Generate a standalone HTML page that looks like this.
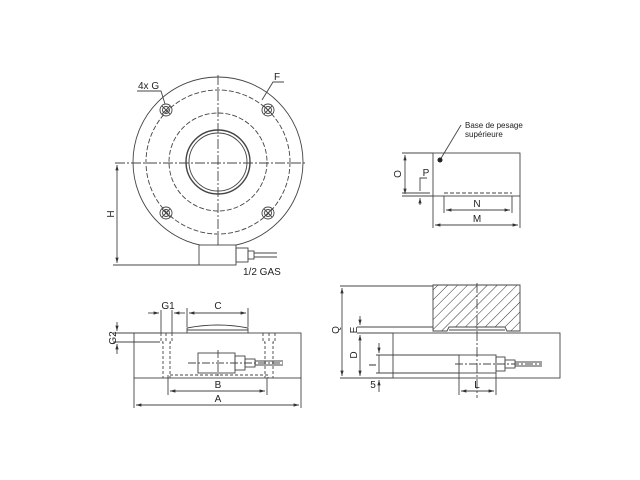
<!DOCTYPE html>
<html><head><meta charset="utf-8"><style>
html,body{margin:0;padding:0;background:#fff;width:640px;height:480px;overflow:hidden}
svg{display:block}
text{font-family:"Liberation Sans",sans-serif;font-size:10px;fill:#222}
</style></head><body>
<svg width="640" height="480" viewBox="0 0 640 480" xmlns="http://www.w3.org/2000/svg">
<defs>
<marker id="a" viewBox="0 0 10 10" refX="10" refY="5" markerWidth="6" markerHeight="6" orient="auto-start-reverse"><path d="M0,2 L10,5 L0,8 z" fill="#333"/></marker>
<pattern id="h" width="7" height="7" patternUnits="userSpaceOnUse" patternTransform="rotate(45)"><line x1="0" y1="0" x2="0" y2="7" stroke="#333" stroke-width="1"/></pattern>
<g id="b" stroke="#444" stroke-width="0.9" fill="none"><circle r="6"/><circle r="3.5"/><line x1="-4" y1="-4" x2="4" y2="4"/><line x1="-4" y1="4" x2="4" y2="-4"/></g>
</defs>
<g stroke="#444" stroke-width="0.9" fill="none">
<!-- top view -->
<circle cx="218" cy="162" r="85"/>
<circle cx="218" cy="162" r="72" stroke-dasharray="5,2"/>
<circle cx="218" cy="162" r="49" stroke-dasharray="5,2"/>
<circle cx="218" cy="162" r="32" stroke-width="1.4"/>
<circle cx="218" cy="162" r="29"/>
<line x1="115" y1="163" x2="305" y2="163" stroke-dasharray="10,2,2,2"/>
<line x1="218" y1="75" x2="218" y2="250" stroke-dasharray="10,2,2,2"/>
<use href="#b" x="166" y="110"/><use href="#b" x="268" y="110"/><use href="#b" x="166" y="213"/><use href="#b" x="268" y="213"/>
<rect x="199" y="245" width="37" height="20" fill="#fff"/>
<rect x="236" y="248" width="12" height="14"/>
<rect x="248" y="251" width="6" height="8"/>
<line x1="254" y1="253" x2="277" y2="253"/><line x1="254" y1="257" x2="277" y2="257"/>
<line x1="117" y1="165" x2="117" y2="263" marker-start="url(#a)" marker-end="url(#a)"/>
<line x1="113" y1="265" x2="199" y2="265"/>
<polyline points="137,91 161,91 165,104"/>
<polyline points="284,82 273,82 262,100"/>
<!-- side view left -->
<rect x="134" y="333" width="167" height="45"/>
<path d="M187,333 L187,328 Q218,322 248,328 L248,333"/>
<line x1="187" y1="330" x2="248" y2="330"/>
<g stroke-dasharray="3,2">
<polyline points="161,333 161,342 163,342 163,378"/><polyline points="172,333 172,342 170,342 170,378"/>
<line x1="166" y1="333" x2="166" y2="342"/>
<polyline points="263,333 263,342 265,342 265,378"/><polyline points="275,333 275,342 273,342 273,378"/>
<line x1="269" y1="333" x2="269" y2="342"/>
<polyline points="168,378 168,375 268,375 268,378"/>
</g>
<rect x="198" y="353" width="37" height="20"/>
<rect x="235" y="356" width="10" height="14"/><rect x="245" y="359" width="10" height="8"/>
<line x1="255" y1="361" x2="283" y2="361"/><line x1="255" y1="365" x2="283" y2="365"/>
<line x1="188" y1="363" x2="283" y2="363" stroke-dasharray="8,2,2,2"/>
<line x1="218" y1="350" x2="218" y2="376" stroke-dasharray="8,2,2,2"/>
<line x1="161" y1="310" x2="161" y2="333"/><line x1="172" y1="310" x2="172" y2="333"/>
<line x1="148" y1="313" x2="159" y2="313" marker-end="url(#a)"/><line x1="185" y1="313" x2="174" y2="313" marker-end="url(#a)"/>
<line x1="187" y1="308" x2="187" y2="327"/><line x1="248" y1="308" x2="248" y2="327"/>
<line x1="189" y1="313" x2="246" y2="313" marker-start="url(#a)" marker-end="url(#a)"/>
<line x1="113" y1="333" x2="160" y2="333"/><line x1="113" y1="342" x2="160" y2="342"/>
<line x1="117" y1="322" x2="117" y2="331" marker-end="url(#a)"/><line x1="117" y1="354" x2="117" y2="344" marker-end="url(#a)"/>
<line x1="168" y1="378" x2="168" y2="395"/><line x1="267" y1="378" x2="267" y2="395"/>
<line x1="170" y1="391" x2="265" y2="391" marker-start="url(#a)" marker-end="url(#a)"/>
<line x1="134" y1="378" x2="134" y2="408"/><line x1="301" y1="378" x2="301" y2="408"/>
<line x1="136" y1="405" x2="299" y2="405" marker-start="url(#a)" marker-end="url(#a)"/>
<!-- top right -->
<rect x="433" y="153" width="87" height="43"/>
<line x1="444" y1="193" x2="512" y2="193" stroke-dasharray="4,2"/>
<line x1="440" y1="160" x2="461" y2="125"/>
<line x1="402" y1="153" x2="433" y2="153"/><line x1="402" y1="196" x2="433" y2="196"/>
<line x1="405" y1="155" x2="405" y2="194" marker-start="url(#a)" marker-end="url(#a)"/>
<line x1="402" y1="193" x2="430" y2="193"/>
<polyline points="427,178 420,178 420,191"/>
<line x1="420" y1="205" x2="420" y2="198" marker-end="url(#a)"/>
<line x1="444" y1="196" x2="444" y2="213"/><line x1="512" y1="196" x2="512" y2="213"/>
<line x1="446" y1="210" x2="510" y2="210" marker-start="url(#a)" marker-end="url(#a)"/>
<line x1="433" y1="196" x2="433" y2="228"/><line x1="520" y1="196" x2="520" y2="228"/>
<line x1="435" y1="225" x2="518" y2="225" marker-start="url(#a)" marker-end="url(#a)"/>
<!-- bottom right -->
<path d="M433,285 L520,285 L520,331 L507,331 L505,327 L449,327 L447,331 L433,331 Z" fill="url(#h)"/>
<line x1="449" y1="330" x2="505" y2="330"/>
<rect x="393" y="333" width="167" height="45"/>
<rect x="459" y="355" width="37" height="18"/>
<rect x="496" y="357" width="9" height="14"/><rect x="505" y="360" width="10" height="8"/>
<line x1="515" y1="362" x2="542" y2="362"/><line x1="515" y1="366" x2="542" y2="366"/>
<line x1="455" y1="364" x2="542" y2="364" stroke-dasharray="8,2,2,2"/>
<line x1="477" y1="283" x2="477" y2="398" stroke-dasharray="10,2,2,2"/>
<line x1="340" y1="286" x2="433" y2="286"/><line x1="340" y1="378" x2="393" y2="378"/>
<line x1="342" y1="288" x2="342" y2="376" marker-start="url(#a)" marker-end="url(#a)"/>
<line x1="357" y1="327" x2="433" y2="327"/><line x1="357" y1="333" x2="393" y2="333"/>
<line x1="360" y1="316" x2="360" y2="325" marker-end="url(#a)"/>
<line x1="360" y1="335" x2="360" y2="376" marker-start="url(#a)" marker-end="url(#a)"/>
<line x1="376" y1="355" x2="459" y2="355"/><line x1="376" y1="373" x2="459" y2="373"/>
<line x1="379" y1="343" x2="379" y2="353" marker-end="url(#a)"/>
<line x1="379" y1="355" x2="379" y2="373"/>
<line x1="379" y1="392" x2="379" y2="380" marker-end="url(#a)"/>
<line x1="459" y1="373" x2="459" y2="395"/><line x1="496" y1="373" x2="496" y2="395"/>
<line x1="461" y1="391" x2="494" y2="391" marker-start="url(#a)" marker-end="url(#a)"/>
</g>
<circle cx="440" cy="160" r="2.5" fill="#222"/>
<text x="138" y="89">4x G</text>
<text x="274" y="80">F</text>
<text x="243" y="275">1/2 GAS</text>
<text transform="translate(114,214) rotate(-90)" text-anchor="middle">H</text>
<text x="168" y="309" text-anchor="middle">G1</text>
<text x="218" y="309" text-anchor="middle">C</text>
<text transform="translate(116,338) rotate(-90)" text-anchor="middle">G2</text>
<text x="218" y="388" text-anchor="middle">B</text>
<text x="218" y="402" text-anchor="middle">A</text>
<text x="465" y="128" style="font-size:8px">Base de pesage</text>
<text x="465" y="137" style="font-size:8px">supérieure</text>
<text transform="translate(401,174) rotate(-90)" text-anchor="middle">O</text>
<text x="426" y="176" text-anchor="middle">P</text>
<text x="477" y="207" text-anchor="middle">N</text>
<text x="477" y="222" text-anchor="middle">M</text>
<text transform="translate(339,330) rotate(-90)" text-anchor="middle">Q</text>
<text transform="translate(357,330) rotate(-90)" text-anchor="middle">E</text>
<text transform="translate(357,355) rotate(-90)" text-anchor="middle">D</text>
<text transform="translate(376,365) rotate(-90)" text-anchor="middle">I</text>
<text x="373" y="388" text-anchor="middle">5</text>
<text x="477" y="388" text-anchor="middle">L</text>
</svg>
</body></html>
